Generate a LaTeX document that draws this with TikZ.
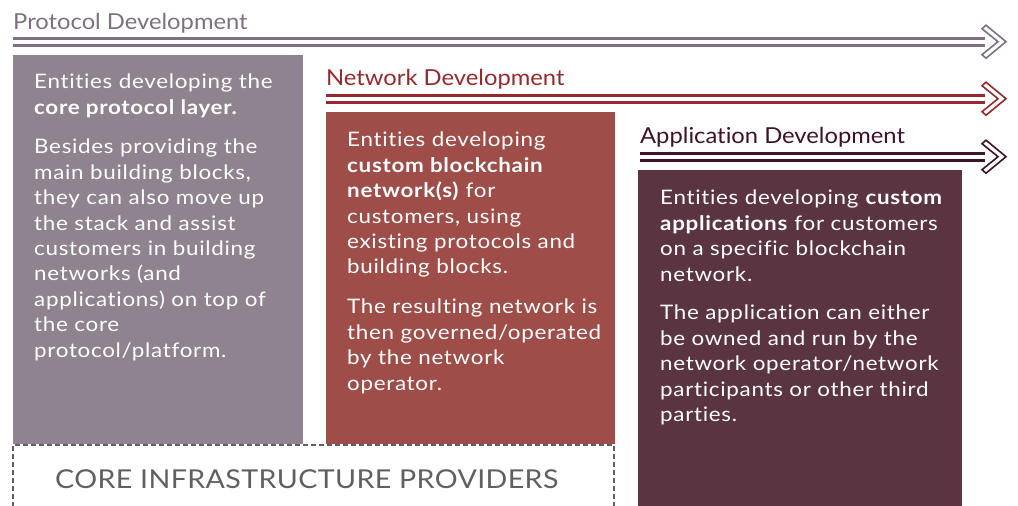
\documentclass[tikz,border=0pt]{standalone}
\usepackage{fontspec}
\setmainfont{Lato}[FakeStretch=1.12,LetterSpace=3.5,Ligatures=NoCommon]
\newfontfamily\titlefont{Lato}[FakeStretch=1.08,Ligatures=NoCommon]
\newfontfamily\corefont{Lato}[FakeStretch=1.1,LetterSpace=1.5,Ligatures=NoCommon]
\definecolor{gbox}{HTML}{8E838E}
\definecolor{rbox}{HTML}{9E4D48}
\definecolor{dbox}{HTML}{5B3442}
\definecolor{garr}{HTML}{7D717F}
\definecolor{rarr}{HTML}{942A2E}
\definecolor{darr}{HTML}{3E1228}
\definecolor{corec}{HTML}{606060}
\begin{document}
\begin{tikzpicture}[x=1pt,y=-1pt,
  title/.style={anchor=base west,inner sep=0,font=\titlefont\fontsize{22}{26}\selectfont,text=#1},
  body/.style={anchor=north west,inner sep=0,align=left,text=white,
     font=\fontsize{20}{25.4}\selectfont},
  rail/.style={draw=#1,line width=3},
  chev/.style={draw=#1,line width=1.6,fill=white,line join=miter}]
\useasboundingbox (0,0) rectangle (1018,506);
% panels
\fill[gbox] (13,55) rectangle (303,444);
\fill[rbox] (326,112) rectangle (615,444);
\fill[dbox] (638,170) rectangle (962,506);
% titles
\node[title=garr] (t1) at (13,30) {Protocol Development};
\node[title=rarr] (t2) at (326,85) {Network Development};
\node[title=darr] (t3) at (640,143) {Application Development};
% rails
\draw[rail=garr] (13,38.5) -- (985,38.5);
\draw[rail=garr] (13,45) -- (985,45);
\draw[rail=rarr] (326,95.5) -- (985,95.5);
\draw[rail=rarr] (326,102) -- (985,102);
\draw[rail=darr] (640,153.5) -- (985,153.5);
\draw[rail=darr] (640,160) -- (985,160);
\foreach \yc/\c in {41.7/garr,98.7/rarr,156.7/darr}{
  \draw[chev=\c] (986,\yc-16.5) -- (1006,\yc) -- (986,\yc+16.5) -- (982,\yc+13) -- (998,\yc) -- (982,\yc-13) -- cycle;
}
% texts
\node[body] (g1) at (34,74) {Entities developing the\\\textbf{core protocol layer.}};
\node[body] (g2) at (34,139) {Besides providing the\\main building blocks,\\they can also move up\\the stack and assist\\customers in building\\networks (and\\applications) on top of\\the core\\protocol/platform.};
\node[body] (r1) at (347,132) {Entities developing\\\textbf{custom blockchain}\\\textbf{network(s)} for\\customers, using\\existing protocols and\\building blocks.};
\node[body] (r2) at (347,299) {The resulting network is\\then governed/operated\\by the network\\operator.};
\node[body] (d1) at (660,190) {Entities developing \textbf{custom}\\\textbf{applications} for customers\\on a specific blockchain\\network.};
\node[body] (d2) at (660,305) {The application can either\\be owned and run by the\\network operator/network\\participants or other third\\parties.};
% core infrastructure
\draw[corec,line width=1.5,dash pattern=on 5pt off 3pt] (13,507) -- (13,445) -- (614,445) -- (614,507);
\node[anchor=base west,inner sep=0,text=corec,font=\corefont\fontsize{26}{30}\selectfont] (core) at (55,488) {CORE INFRASTRUCTURE PROVIDERS};
\end{tikzpicture}
\end{document}
